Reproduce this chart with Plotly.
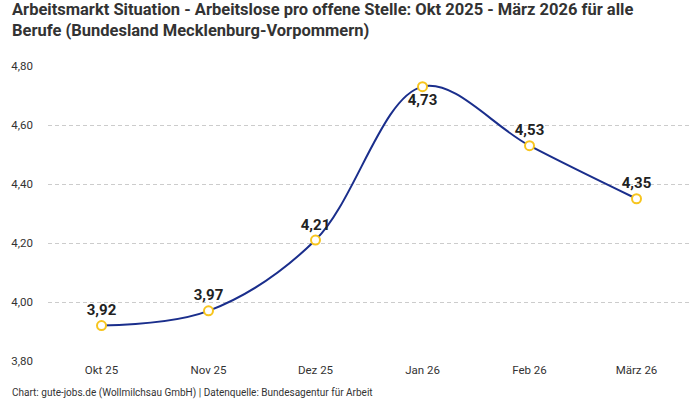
import plotly.graph_objects as go

months = ["Okt 25", "Nov 25", "Dez 25", "Jan 26", "Feb 26", "März 26"]
ratio = [3.92, 3.97, 4.21, 4.73, 4.53, 4.35]
label_pos = ["top center", "top center", "top center", "bottom center", "top center", "top center"]
y_ticks = [3.8, 4.0, 4.2, 4.4, 4.6, 4.8]

FONT = "Roboto"
TITLE = ("<b>Arbeitsmarkt Situation - Arbeitslose pro offene Stelle: Okt 2025 - März 2026 für alle<br>"
         "Berufe (Bundesland Mecklenburg-Vorpommern)</b>")
SOURCE = "Chart: gute-jobs.de (Wollmilchsau GmbH) | Datenquelle: Bundesagentur für Arbeit"


def de_num(v):
    # German decimal comma
    return ("%.2f" % v).replace(".", ",")


fig = go.Figure()
fig.add_trace(go.Scatter(
    x=months,
    y=ratio,
    mode="lines+markers+text",
    line=dict(color="#1a2e8c", width=2, shape="spline", smoothing=1.0),
    marker=dict(size=9, color="white", line=dict(color="#f7c51e", width=2)),
    text=[de_num(v) for v in ratio],
    textposition=label_pos,
    textfont=dict(family=FONT, size=15, color="#222222", weight="bold"),
    cliponaxis=False,
    hoverinfo="skip",
))

fig.update_layout(
    width=700,
    height=400,
    margin=dict(l=48, r=10, t=66, b=39),
    paper_bgcolor="white",
    plot_bgcolor="white",
    showlegend=False,
    font=dict(family=FONT, size=11, color="#333333"),
    annotations=[
        dict(
            text=TITLE,
            xref="paper", yref="paper", x=-0.0592, y=1.232,
            xanchor="left", yanchor="top", align="left", showarrow=False,
            font=dict(family=FONT, size=16.5, color="#333333"),
        ),
        dict(
            text=SOURCE,
            xref="paper", yref="paper", x=-0.059, y=-0.108,
            xanchor="left", yanchor="middle", showarrow=False,
            font=dict(family=FONT, size=10, color="#333333"),
        ),
    ],
)

fig.update_xaxes(
    type="category",
    range=[-0.5, 5.5],
    showgrid=False,
    showline=False,
    ticks="",
    tickfont=dict(family=FONT, size=11.5, color="#333333"),
)
fig.update_yaxes(
    range=[3.8, 4.8],
    tickvals=y_ticks,
    ticktext=[de_num(v) for v in y_ticks],
    showgrid=True,
    gridcolor="#cccccc",
    griddash="4px,3px",
    gridwidth=1,
    zeroline=False,
    showline=False,
    ticks="",
    ticklabelstandoff=14,
    tickfont=dict(family=FONT, size=11.5, color="#333333"),
)

fig.write_html(
    "out.html",
    config={"displayModeBar": False},
    post_script="document.body.style.margin='0';",
)
